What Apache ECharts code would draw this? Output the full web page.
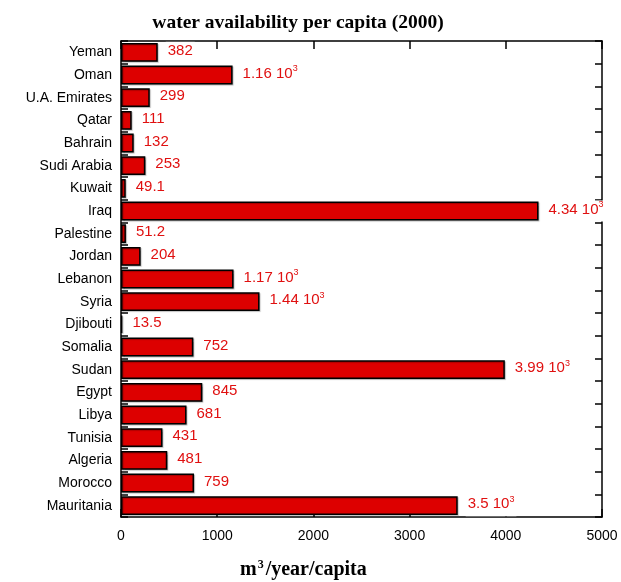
<!DOCTYPE html>
<html>
<head>
<meta charset="utf-8">
<script src="https://cdn.jsdelivr.net/npm/echarts@6/dist/echarts.min.js"></script>
<style>html,body{margin:0;padding:0;background:#fff}#c{width:621px;height:582px}</style>
</head>
<body>
<div id="c"></div>
<script>
var countries = ['Yeman','Oman','U.A. Emirates','Qatar','Bahrain','Sudi Arabia','Kuwait','Iraq','Palestine','Jordan','Lebanon','Syria','Djibouti','Somalia','Sudan','Egypt','Libya','Tunisia','Algeria','Morocco','Mauritania'];
var waterPerCapita = [382,1160,299,111,132,253,49.1,4340,51.2,204,1170,1440,13.5,752,3990,845,681,431,481,759,3500];
var xTicks = [0,1000,2000,3000,4000,5000];

var chart = echarts.init(document.getElementById('c'));
var sansFont = '"Liberation Sans", Arial, Helvetica, sans-serif';
var serifFont = '"Liberation Serif", "Times New Roman", serif';

function fmt(v) {
  if (v >= 1000) {
    var m = +(v / 1000).toPrecision(3);
    return '{n|' + m + ' 10}{s|3}';
  }
  return '{n|' + v + '}';
}

var axisLineStyle = {color: '#000', width: 1.5};
chart.setOption({
  animation: false,
  title: {
    text: 'water availability per capita (2000)',
    left: 293, top: 8, textAlign: 'center',
    textStyle: {fontFamily: serifFont, fontWeight: 'bold', fontSize: 19.5, color: '#000'}
  },
  grid: {left: 121, right: 19, top: 41, bottom: 65, containLabel: false},
  xAxis: [{
    type: 'value', min: 0, max: 5000, interval: 1000, position: 'bottom',
    axisLine: {show: true, onZero: false, lineStyle: axisLineStyle},
    axisTick: {show: true, inside: true, length: 8, lineStyle: axisLineStyle},
    axisLabel: {fontFamily: sansFont, fontSize: 14, color: '#000', margin: 12,
      formatter: function (v) { return xTicks.indexOf(v) >= 0 ? String(v) : ''; }},
    splitLine: {show: false}
  }, {
    type: 'value', min: 0, max: 5000, interval: 1000, position: 'top',
    axisLine: {show: true, onZero: false, lineStyle: axisLineStyle},
    axisTick: {show: true, inside: true, length: 8, lineStyle: axisLineStyle},
    axisLabel: {show: false}, splitLine: {show: false}
  }],
  yAxis: [{
    type: 'category', data: countries, inverse: true, position: 'left',
    axisLine: {show: true, onZero: false, lineStyle: axisLineStyle},
    axisTick: {show: true, inside: true, length: 7, lineStyle: axisLineStyle},
    axisLabel: {fontFamily: sansFont, fontSize: 14, color: '#000', margin: 9}
  }, {
    type: 'category', data: countries, inverse: true, position: 'right',
    axisLine: {show: true, onZero: false, lineStyle: axisLineStyle},
    axisTick: {show: true, inside: true, length: 7, lineStyle: axisLineStyle},
    axisLabel: {show: false}
  }],
  series: [{
    type: 'bar', data: waterPerCapita, barWidth: '83%',
    xAxisIndex: 0, yAxisIndex: 0, z: 3,
    itemStyle: {color: '#dd0000', borderColor: '#000', borderWidth: 1.5,
      shadowColor: 'rgba(0,0,0,0.25)', shadowBlur: 1, shadowOffsetX: 1, shadowOffsetY: 1},
    label: {
      show: true, position: 'right', distance: 8,
      backgroundColor: '#fff', padding: [0, 2, 3, 2],
      formatter: function (p) { return fmt(p.value); },
      rich: {
        n: {fontFamily: sansFont, fontSize: 15, color: '#e01010', lineHeight: 18},
        s: {fontFamily: sansFont, fontSize: 9, color: '#e01010', verticalAlign: 'top', lineHeight: 18, padding: [0,0,8,0]}
      }
    }
  }],
  graphic: [{
    type: 'text', left: 240, top: 559,
    style: {
      text: '{m|m}{s|3}{m|/year/capita}',
      rich: {
        m: {fontFamily: serifFont, fontWeight: 'bold', fontSize: 20, color: '#000', lineHeight: 24},
        s: {fontFamily: serifFont, fontWeight: 'bold', fontSize: 12, color: '#000', lineHeight: 24, padding: [0,2,10,1]}
      }
    }
  }]
});
</script>
</body>
</html>
